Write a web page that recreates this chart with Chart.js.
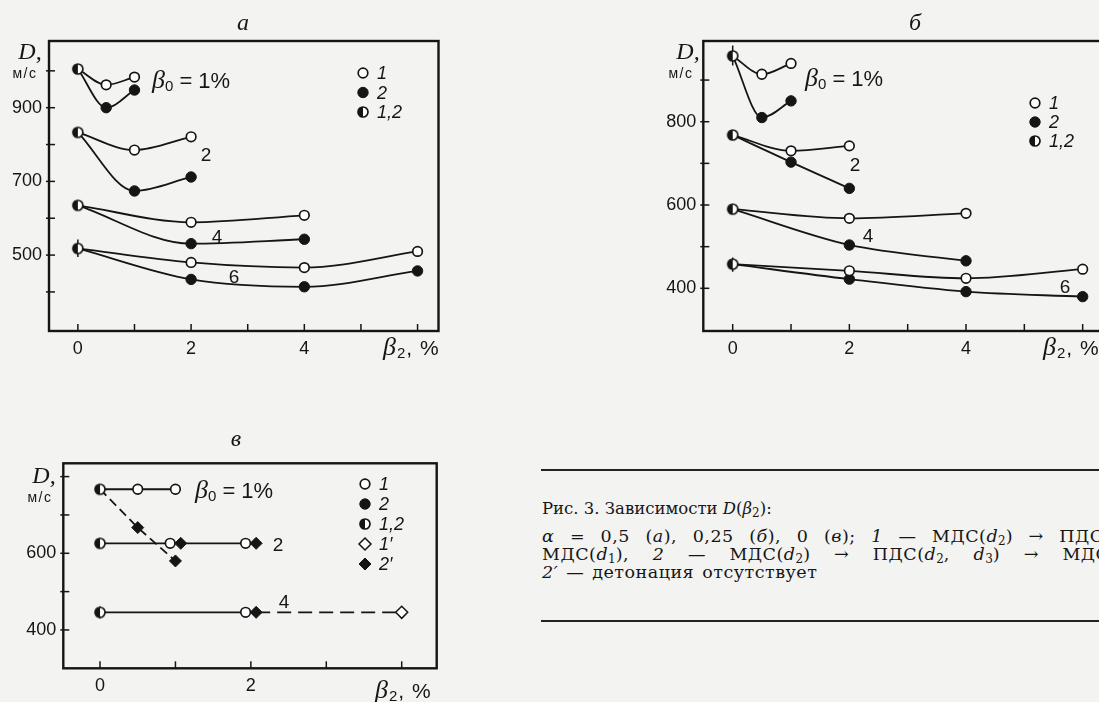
<!DOCTYPE html>
<html>
<head>
<meta charset="utf-8">
<script src="https://cdn.jsdelivr.net/npm/chart.js@4.4.0/dist/chart.umd.min.js"></script>
<style>
  body { margin: 0; width: 1099px; height: 702px; overflow: hidden; position: relative;
         background: #f3f3f1; color: #161616; font-family: "Liberation Sans", Arial, sans-serif; }
  canvas { position: absolute; }
  .t { position: absolute; white-space: nowrap; line-height: 1; transform: translate(-50%, -50%); }
  .l { position: absolute; white-space: nowrap; line-height: 1; transform: translate(0, -50%); }
  .ttl { font: italic 24px "Liberation Serif", serif; }
  .dl { font: italic 24px "Liberation Serif", serif; }
  .ms { font-size: 14px; letter-spacing: 1.5px; }
  .b0 { font-size: 22px; }
  .b0 i, .bx i { font-family: "Liberation Serif", serif; font-size: 26px; }
  .b0 sub, .bx sub { font-size: 15px; vertical-align: -3px; }
  .num { font-size: 19px; }
  .bx { font-size: 21px; letter-spacing: 1px; }
  .cap { position: absolute; left: 542px; white-space: nowrap; line-height: 1;
         font-family: "DejaVu Serif", serif; font-size: 17.5px; letter-spacing: 0.5px; }
  .cap sub { font-size: 12px; vertical-align: -3px; letter-spacing: 0; }
  .rule { position: absolute; left: 541px; width: 560px; height: 0; border-top: 2px solid #222; }
</style>
</head>
<body>

<canvas id="chA" width="445" height="372" style="left:0;top:0"></canvas>
<canvas id="chB" width="460" height="372" style="left:655px;top:0"></canvas>
<canvas id="chV" width="445" height="302" style="left:0;top:400px"></canvas>

<!-- panel а -->
<div class="t ttl" style="left:243px;top:22px">а</div>
<div class="t dl" style="left:30px;top:51px">D,</div>
<div class="t ms" style="left:25px;top:73px">м/с</div>
<div class="l b0" style="left:152px;top:80px"><i>β</i><sub>0</sub> = 1%</div>
<div class="t num" style="left:206px;top:154px">2</div>
<div class="t num" style="left:217px;top:236px">4</div>
<div class="t num" style="left:234px;top:276px">6</div>
<div class="l bx" style="left:383px;top:347px"><i>β</i><sub>2</sub>, %</div>

<!-- panel б -->
<div class="t ttl" style="left:915px;top:22px">б</div>
<div class="t dl" style="left:688px;top:51px">D,</div>
<div class="t ms" style="left:681px;top:73px">м/с</div>
<div class="l b0" style="left:805px;top:78px"><i>β</i><sub>0</sub> = 1%</div>
<div class="t num" style="left:855px;top:164px">2</div>
<div class="t num" style="left:868px;top:235px">4</div>
<div class="t num" style="left:1065px;top:286px">6</div>
<div class="l bx" style="left:1043px;top:347px"><i>β</i><sub>2</sub>, %</div>

<!-- panel в -->
<div class="t ttl" style="left:236px;top:438px">в</div>
<div class="t dl" style="left:44px;top:475px">D,</div>
<div class="t ms" style="left:40px;top:497px">м/с</div>
<div class="l b0" style="left:195px;top:490px"><i>β</i><sub>0</sub> = 1%</div>
<div class="t num" style="left:278px;top:544px">2</div>
<div class="t num" style="left:284px;top:601px">4</div>
<div class="l bx" style="left:375px;top:690px"><i>β</i><sub>2</sub>, %</div>

<!-- caption -->
<div class="rule" style="top:469px"></div>
<div class="cap" style="top:501px;font-size:16.5px;letter-spacing:0">Рис. 3. Зависимости <i>D</i>(<i>β</i><sub>2</sub>):</div>
<div class="cap" style="top:528px;word-spacing:9.5px"><i>α</i> = 0,5 (<i>а</i>), 0,25 (<i>б</i>), 0 (<i>в</i>); <i>1</i> — МДС(<i>d</i><sub>2</sub>) → ПДС</div>
<div class="cap" style="top:546px;word-spacing:17.5px">МДС(<i>d</i><sub>1</sub>), <i>2</i> — МДС(<i>d</i><sub>2</sub>) → ПДС(<i>d</i><sub>2</sub>, <i>d</i><sub>3</sub>) → МДС</div>
<div class="cap" style="top:564px;word-spacing:2px"><i>2′</i> — детонация отсутствует</div>
<div class="rule" style="top:620px"></div>

<script>
// ---- panel а (alpha = 0.5)
const aX1 = [0, 0.5, 1];
const aOpen1 = [1005, 962, 983];
const aFull1 = [1005, 900, 948];
const aX2 = [0, 1, 2];
const aOpen2 = [833, 785, 821];
const aFull2 = [833, 674, 712];
const aX4 = [0, 2, 4];
const aOpen4 = [635, 589, 608];
const aFull4 = [635, 531, 543];
const aX6 = [0, 2, 4, 6];
const aOpen6 = [518, 480, 466, 510];
const aFull6 = [518, 434, 414, 457];
const aErr = [495, 542];
const aXTicks = [0, 1, 2, 3, 4, 5, 6];
const aXLabels = [0, 2, 4];
const aYTicks = [400, 500, 600, 700, 800, 900, 1000];
const aYLabels = [500, 700, 900];

// ---- panel б (alpha = 0.25)
const bX1 = [0, 0.5, 1];
const bOpen1 = [958, 914, 940];
const bFull1 = [958, 810, 850];
const bX2 = [0, 1, 2];
const bOpen2 = [768, 730, 742];
const bFull2 = [768, 703, 640];
const bX4 = [0, 2, 4];
const bOpen4 = [590, 568, 580];
const bFull4 = [590, 504, 466];
const bX6 = [0, 2, 4, 6];
const bOpen6 = [458, 442, 424, 446];
const bFull6 = [458, 422, 392, 380];
const bErr1 = [935, 983];
const bErr6 = [440, 474];
const bXTicks = [0, 1, 2, 3, 4, 5, 6];
const bXLabels = [0, 2, 4];
const bYTicks = [400, 500, 600, 700, 800, 900];
const bYLabels = [400, 600, 800];

// ---- panel в (alpha = 0)
const vX1 = [0, 0.5, 1];
const vOpen1 = [767, 767, 767];
const vNoDetX = [0, 0.5, 1];        // 2' — no detonation
const vNoDet = [767, 667, 580];
const vLineX2 = [0, 2.07];
const vOpenX2 = [0.93, 1.93];
const vDiaX2 = [1.07, 2.07];
const vD2 = 626;
const vLineX4 = [0, 2.07];
const vOpenX4 = [1.93];
const vDiaX4 = [2.07];
const vOpenDiaX4 = [4];
const vD4 = 446;
const vErr4 = [430, 461];
const vXTicks = [0, 1, 2, 3, 4];
const vXLabels = [0, 2];
const vYTicks = [400, 500, 600, 700, 800];
const vYLabels = [400, 600];

const ink = '#151515';
Chart.defaults.font.family = '"Liberation Sans", Arial, sans-serif';
Chart.defaults.font.size = 18;
Chart.defaults.color = ink;

// half-filled circle (left half dark)
function halfDot(r) {
    const c = document.createElement('canvas');
    const s = 2 * r + 4;
    c.width = s; c.height = s;
    const g = c.getContext('2d');
    g.beginPath(); g.arc(s / 2, s / 2, r, 0, Math.PI * 2);
    g.fillStyle = '#fff'; g.fill();
    g.beginPath(); g.moveTo(s / 2, s / 2); g.arc(s / 2, s / 2, r, Math.PI / 2, Math.PI * 1.5);
    g.closePath(); g.fillStyle = ink; g.fill();
    g.beginPath(); g.arc(s / 2, s / 2, r, 0, Math.PI * 2);
    g.lineWidth = 1.7; g.strokeStyle = ink; g.stroke();
    return c;
}
const half = halfDot(5);

const kinds = {
    open:    { pointStyle: 'circle',  pointRadius: 4.8, pointBackgroundColor: '#fff', pointBorderWidth: 1.7 },
    full:    { pointStyle: 'circle',  pointRadius: 5.2, pointBackgroundColor: ink,    pointBorderWidth: 1 },
    half:    { pointStyle: half,      pointRadius: 5,   pointBackgroundColor: ink,    pointBorderWidth: 1 },
    opendia: { pointStyle: 'rectRot', pointRadius: 6,   pointBackgroundColor: '#fff', pointBorderWidth: 1.5 },
    fulldia: { pointStyle: 'rectRot', pointRadius: 6,   pointBackgroundColor: ink,    pointBorderWidth: 1 }
};

function pts(xs, ys) {
    return xs.map((x, i) => ({ x: x, y: Array.isArray(ys) ? ys[i] : ys }));
}

function line(xs, ys, smooth, dash) {
    return {
        data: pts(xs, ys), showLine: true, pointRadius: 0, order: 2,
        borderColor: ink, borderWidth: 1.8, borderDash: dash || [],
        cubicInterpolationMode: smooth ? 'monotone' : 'default', tension: smooth ? 0.4 : 0
    };
}

function marks(xs, ys, kind) {
    return Object.assign({ data: pts(xs, ys), showLine: false, order: 1, pointBorderColor: ink }, kinds[kind]);
}

function curve(xs, ys, kind) {
    // line + markers, the shared start point is drawn as half-filled separately
    return [line(xs, ys, true), marks(xs.slice(1), ys.slice(1), kind)];
}

function errBar(x, range) {
    return { data: pts([x, x], range), showLine: true, pointRadius: 0, order: 3, borderColor: ink, borderWidth: 1.5 };
}

// box, inward ticks and the small legend
function framePlugin(legend) {
    return {
        id: 'frame',
        afterDatasetsDraw(chart) {
            const ctx = chart.ctx, a = chart.chartArea;
            const sx = chart.scales.x, sy = chart.scales.y;
            ctx.save();
            ctx.strokeStyle = ink;
            ctx.lineWidth = 2.4;
            ctx.strokeRect(a.left, a.top, a.right - a.left, a.bottom - a.top);
            ctx.lineWidth = 1.5;
            sx.ticks.forEach(t => {
                const p = sx.getPixelForValue(t.value);
                ctx.beginPath(); ctx.moveTo(p, a.bottom); ctx.lineTo(p, a.bottom - 7); ctx.stroke();
            });
            sy.ticks.forEach(t => {
                const p = sy.getPixelForValue(t.value);
                ctx.beginPath(); ctx.moveTo(a.left - 3, p); ctx.lineTo(a.left + 6, p); ctx.stroke();
            });
            ctx.font = 'italic 18px "Liberation Sans", Arial, sans-serif';
            ctx.textBaseline = 'middle';
            legend.items.forEach((it, i) => {
                const k = kinds[it.kind];
                const y = legend.y + i * legend.dy;
                ctx.fillStyle = k.pointBackgroundColor;
                ctx.strokeStyle = ink;
                ctx.lineWidth = k.pointBorderWidth;
                Chart.helpers.drawPoint(ctx, { pointStyle: k.pointStyle, radius: k.pointRadius, rotation: 0, borderWidth: k.pointBorderWidth }, legend.x, y);
                ctx.fillStyle = ink;
                ctx.fillText(it.text, legend.x + 14, y + 1);
            });
            ctx.restore();
        }
    };
}

function makePanel(id, datasets, cfg) {
    new Chart(document.getElementById(id), {
        type: 'scatter',
        data: { datasets: datasets },
        options: {
            responsive: false, animation: false, devicePixelRatio: 1,
            layout: { padding: { top: cfg.top, right: cfg.right, left: 0, bottom: 0 } },
            plugins: { legend: { display: false }, tooltip: { enabled: false } },
            scales: {
                x: {
                    type: 'linear', min: cfg.xMin, max: cfg.xMax,
                    grid: { display: false, drawTicks: false }, border: { display: false },
                    afterBuildTicks: s => { s.ticks = cfg.xTicks.map(v => ({ value: v })); },
                    afterFit: s => { s.height = cfg.xAxisH; },
                    ticks: { padding: 7, maxRotation: 0, autoSkip: false,
                             callback: v => cfg.xLabels.includes(v) ? String(v) : '' }
                },
                y: {
                    type: 'linear', min: cfg.yMin, max: cfg.yMax,
                    grid: { display: false, drawTicks: false }, border: { display: false },
                    afterBuildTicks: s => { s.ticks = cfg.yTicks.map(v => ({ value: v })); },
                    afterFit: s => { s.width = cfg.yAxisW; },
                    ticks: { padding: 7, autoSkip: false,
                             callback: v => cfg.yLabels.includes(v) ? String(v) : '' }
                }
            }
        },
        plugins: [framePlugin(cfg.legend)]
    });
}

const legend3 = [{ kind: 'open', text: '1' }, { kind: 'full', text: '2' }, { kind: 'half', text: '1,2' }];
const legend5 = legend3.concat([{ kind: 'opendia', text: '1′' }, { kind: 'fulldia', text: '2′' }]);

// ---- а
makePanel('chA', [
    marks([0, 0, 0, 0], [aOpen1[0], aOpen2[0], aOpen4[0], aOpen6[0]], 'half'),
    ...curve(aX1, aOpen1, 'open'), ...curve(aX1, aFull1, 'full'),
    ...curve(aX2, aOpen2, 'open'), ...curve(aX2, aFull2, 'full'),
    ...curve(aX4, aOpen4, 'open'), ...curve(aX4, aFull4, 'full'),
    ...curve(aX6, aOpen6, 'open'), ...curve(aX6, aFull6, 'full'),
    errBar(0, aErr)
], {
    top: 41, right: 5, yAxisW: 49, xAxisH: 41,
    xMin: -0.51, xMax: 6.37, yMin: 294, yMax: 1081,
    xTicks: aXTicks, xLabels: aXLabels, yTicks: aYTicks, yLabels: aYLabels,
    legend: { x: 363, y: 73, dy: 19.5, items: legend3 }
});

// ---- б
makePanel('chB', [
    marks([0, 0, 0, 0], [bOpen1[0], bOpen2[0], bOpen4[0], bOpen6[0]], 'half'),
    ...curve(bX1, bOpen1, 'open'), ...curve(bX1, bFull1, 'full'),
    ...curve(bX2, bOpen2, 'open'), ...curve(bX2, bFull2, 'full'),
    ...curve(bX4, bOpen4, 'open'), ...curve(bX4, bFull4, 'full'),
    ...curve(bX6, bOpen6, 'open'), ...curve(bX6, bFull6, 'full'),
    errBar(0, bErr1), errBar(0, bErr6)
], {
    top: 41, right: 9, yAxisW: 48.3, xAxisH: 41,
    xMin: -0.504, xMax: 6.40, yMin: 297.5, yMax: 993.8,
    xTicks: bXTicks, xLabels: bXLabels, yTicks: bYTicks, yLabels: bYLabels,
    legend: { x: 380, y: 103, dy: 19, items: legend3 }
});

// ---- в
makePanel('chV', [
    marks([0, 0, 0], [vOpen1[0], vD2, vD4], 'half'),
    marks(vX1.slice(1), vOpen1.slice(1), 'open'),
    marks(vNoDetX.slice(1), vNoDet.slice(1), 'fulldia'),
    marks(vOpenX2, vD2, 'open'), marks(vDiaX2, vD2, 'fulldia'),
    marks(vOpenX4, vD4, 'open'), marks(vDiaX4, vD4, 'fulldia'),
    marks(vOpenDiaX4, vD4, 'opendia'),
    line(vX1, vOpen1, false),
    line(vNoDetX, vNoDet, false, [9, 5]),
    line(vLineX2, vD2, false),
    line(vLineX4, vD4, false),
    line([vLineX4[1]].concat(vOpenDiaX4), vD4, false, [14, 7]),
    errBar(0, vErr4)
], {
    top: 63.3, right: 8.3, yAxisW: 63.3, xAxisH: 33.7,
    xMin: -0.487, xMax: 4.464, yMin: 300, yMax: 834.7,
    xTicks: vXTicks, xLabels: vXLabels, yTicks: vYTicks, yLabels: vYLabels,
    legend: { x: 365, y: 84, dy: 20, items: legend5 }
});
</script>
</body>
</html>
